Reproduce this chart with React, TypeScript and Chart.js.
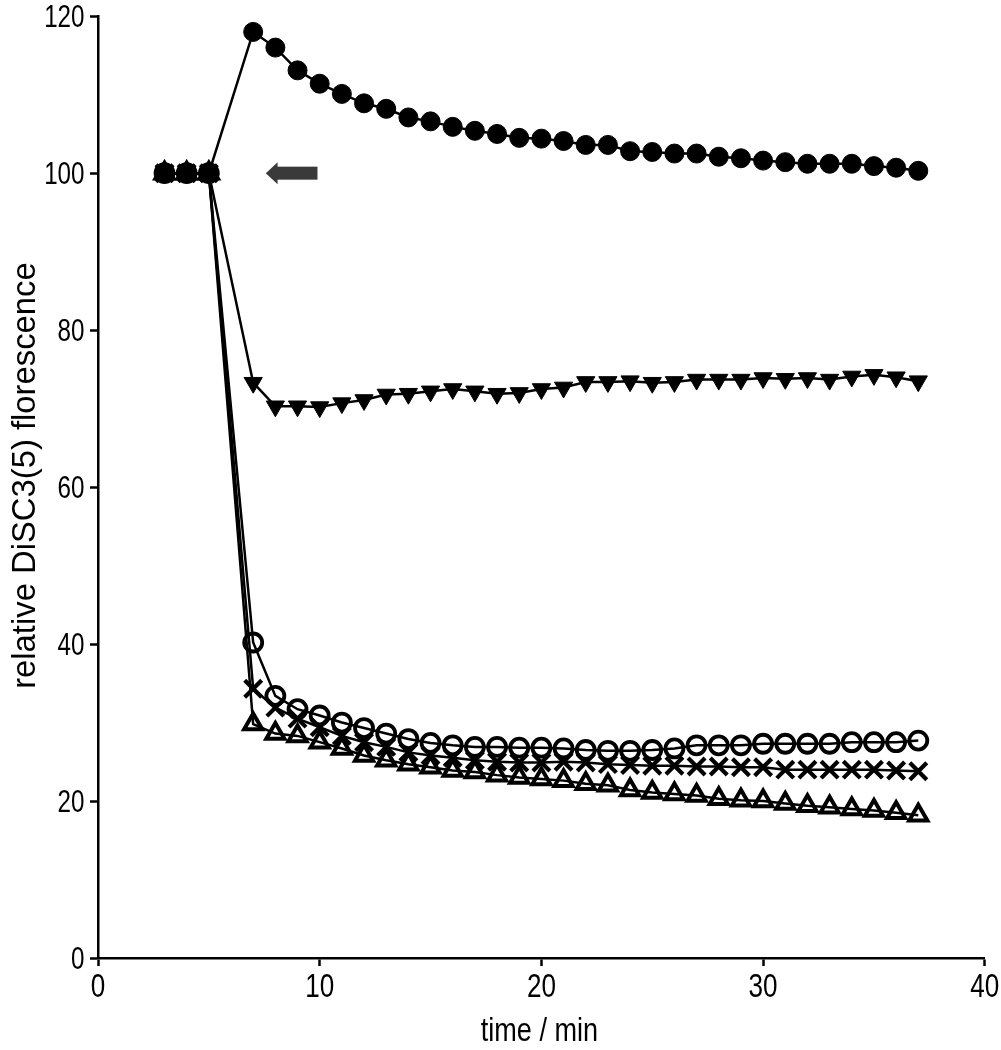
import React, { useEffect, useRef } from 'react';
import { Chart, registerables } from 'chart.js';

Chart.register(...registerables);

const times = [3, 4, 5, 7, 8, 9, 10, 11, 12, 13, 14, 15, 16, 17, 18, 19, 20, 21, 22, 23, 24, 25, 26, 27, 28, 29, 30, 31, 32, 33, 34, 35, 36, 37];

const filledCircles = [100, 100, 100, 118.0, 116.0, 113.1, 111.4, 110.1, 108.9, 108.2, 107.1, 106.6, 105.9, 105.4, 105.0, 104.5, 104.4, 104.1, 103.6, 103.6, 102.8, 102.7, 102.5, 102.5, 102.1, 101.9, 101.6, 101.4, 101.2, 101.2, 101.2, 100.9, 100.7, 100.3];
const invertedTriangles = [100, 100, 100, 73.3, 70.3, 70.3, 70.2, 70.7, 71.1, 71.8, 71.9, 72.2, 72.5, 72.2, 71.9, 72.0, 72.5, 72.7, 73.4, 73.4, 73.5, 73.3, 73.4, 73.7, 73.7, 73.7, 73.9, 73.8, 73.9, 73.7, 74.1, 74.3, 74.0, 73.5];
const openCircles = [100, 100, 100, 40.2, 33.4, 31.7, 30.9, 30.0, 29.3, 28.6, 27.9, 27.4, 27.1, 26.9, 26.9, 26.8, 26.8, 26.7, 26.5, 26.4, 26.4, 26.5, 26.7, 27.1, 27.1, 27.1, 27.3, 27.3, 27.3, 27.3, 27.5, 27.5, 27.5, 27.7];
const crosses = [100, 100, 100, 34.3, 31.9, 30.5, 29.4, 28.3, 27.5, 26.9, 26.2, 25.8, 25.5, 25.2, 25.0, 24.9, 24.9, 25.0, 24.9, 24.7, 24.6, 24.5, 24.5, 24.4, 24.4, 24.3, 24.3, 24.0, 24.0, 24.0, 24.0, 24.0, 23.9, 23.8];
const openTriangles = [100, 100, 100, 29.8, 28.6, 28.3, 27.5, 26.7, 25.8, 25.2, 24.7, 24.3, 23.9, 23.7, 23.3, 23.0, 22.8, 22.6, 22.2, 22.0, 21.4, 21.1, 20.9, 20.7, 20.3, 20.1, 20.0, 19.7, 19.4, 19.2, 19.0, 18.8, 18.5, 18.2];

const xTicks = [0, 10, 20, 30, 40];
const yTicks = [0, 20, 40, 60, 80, 100, 120];

// arrow annotation (data units): tip, head base, tail, level
const arrowXs = [7.57, 8.1, 9.9];
const arrowLevel = 100;

const xTitle = 'time / min';
const yTitle = 'relative DiSC3(5) florescence';

const fontFamily = "'Liberation Sans', Arial, Helvetica, sans-serif";

function toPoints(ys: number[]) {
  return ys.map((y, i) => ({ x: times[i], y }));
}

const arrowPlugin = {
  id: 'arrowPlugin',
  afterDatasetsDraw(chart: any) {
    const { ctx, scales } = chart;
    const xs = scales.x;
    const ys = scales.y;
    const tip = xs.getPixelForValue(arrowXs[0]);
    const base = xs.getPixelForValue(arrowXs[1]);
    const tail = xs.getPixelForValue(arrowXs[2]);
    const cy = ys.getPixelForValue(arrowLevel);
    ctx.save();
    ctx.fillStyle = '#3a3a3a';
    ctx.fillRect(base - 1, cy - 6.5, tail - base + 1, 13);
    ctx.beginPath();
    ctx.moveTo(tip, cy);
    ctx.lineTo(base, cy - 11);
    ctx.lineTo(base, cy + 11);
    ctx.closePath();
    ctx.fill();
    ctx.restore();
  },
};

// axis text drawn with a horizontally condensed face
const textPlugin = {
  id: 'textPlugin',
  afterDraw(chart: any) {
    const { ctx, scales, chartArea } = chart;
    const xs = scales.x;
    const ys = scales.y;
    ctx.save();
    ctx.fillStyle = '#000';
    // y tick labels
    ctx.font = `31px ${fontFamily}`;
    ctx.textAlign = 'right';
    ctx.textBaseline = 'alphabetic';
    yTicks.forEach((v) => {
      const py = ys.getPixelForValue(v);
      ctx.save();
      ctx.translate(ys.right - 13.5, py + 10.5);
      ctx.scale(0.78, 1);
      ctx.fillText(String(v), 0, 0);
      ctx.restore();
    });
    // x tick labels
    ctx.font = `33px ${fontFamily}`;
    ctx.textAlign = 'center';
    xTicks.forEach((v) => {
      const px = xs.getPixelForValue(v);
      ctx.save();
      ctx.translate(px, xs.top + 38.5);
      ctx.scale(0.79, 1);
      ctx.fillText(String(v), 0, 0);
      ctx.restore();
    });
    // x title
    ctx.font = `33px ${fontFamily}`;
    ctx.save();
    ctx.translate((chartArea.left + chartArea.right) / 2 - 2, xs.top + 83);
    ctx.scale(0.82, 1);
    ctx.fillText(xTitle, 0, 0);
    ctx.restore();
    // y title
    ctx.font = `32.8px ${fontFamily}`;
    ctx.save();
    ctx.translate(35, (chartArea.top + chartArea.bottom) / 2 - 11.5);
    ctx.rotate(-Math.PI / 2);
    ctx.fillText(yTitle, 0, 0);
    ctx.restore();
    ctx.restore();
  },
};

export default function App() {
  const ref = useRef<HTMLCanvasElement | null>(null);
  useEffect(() => {
    if (!ref.current) return;
    const common = {
      borderColor: '#000',
      borderWidth: 2.5,
      pointBorderColor: '#000',
      tension: 0,
      fill: false,
      showLine: true,
    };
    const chart = new Chart(ref.current, {
      type: 'line',
      data: {
        datasets: [
          {
            ...common,
            label: 'filled circles',
            data: toPoints(filledCircles),
            pointStyle: 'circle',
            pointRadius: 9.5,
            pointBackgroundColor: '#000',
            pointBorderWidth: 1,
          },
          {
            ...common,
            label: 'inverted triangles',
            data: toPoints(invertedTriangles),
            pointStyle: 'triangle',
            pointRotation: 180,
            pointRadius: 10.5,
            pointBackgroundColor: '#000',
            pointBorderWidth: 1,
          },
          {
            ...common,
            label: 'open circles',
            data: toPoints(openCircles),
            pointStyle: 'circle',
            pointRadius: 9,
            pointBackgroundColor: 'rgba(0,0,0,0)',
            pointBorderWidth: 3.8,
          },
          {
            ...common,
            label: 'crosses',
            data: toPoints(crosses),
            pointStyle: 'crossRot',
            pointRadius: 12,
            pointBackgroundColor: 'rgba(0,0,0,0)',
            pointBorderWidth: 4.2,
          },
          {
            ...common,
            label: 'open triangles',
            data: toPoints(openTriangles),
            pointStyle: 'triangle',
            pointRadius: 10.5,
            pointBackgroundColor: 'rgba(0,0,0,0)',
            pointBorderWidth: 4,
          },
        ],
      },
      options: {
        responsive: true,
        maintainAspectRatio: false,
        animation: false,
        layout: { padding: { top: 14, right: 15, left: 0, bottom: 0 } },
        plugins: {
          legend: { display: false },
          tooltip: { enabled: false },
        },
        scales: {
          x: {
            type: 'linear',
            min: 0,
            max: 40,
            afterBuildTicks: (axis: any) => {
              axis.ticks = xTicks.map((v) => ({ value: v }));
            },
            afterFit: (axis: any) => {
              axis.height = 92;
            },
            border: { display: true, color: '#000', width: 2.5 },
            grid: {
              display: true,
              drawOnChartArea: false,
              drawTicks: true,
              tickLength: 8,
              tickWidth: 2.5,
              tickColor: '#000',
            },
            ticks: { display: false },
            title: { display: false, text: xTitle },
          },
          y: {
            type: 'linear',
            min: 0,
            max: 120,
            afterBuildTicks: (axis: any) => {
              axis.ticks = yTicks.map((v) => ({ value: v }));
            },
            afterFit: (axis: any) => {
              axis.width = 98;
            },
            border: { display: true, color: '#000', width: 2.5 },
            grid: {
              display: true,
              drawOnChartArea: false,
              drawTicks: true,
              tickLength: 8,
              tickWidth: 2.5,
              tickColor: '#000',
            },
            ticks: { display: false },
            title: { display: false, text: yTitle },
          },
        },
      },
      plugins: [arrowPlugin, textPlugin],
    } as any);
    return () => chart.destroy();
  }, []);

  return (
    <div style={{ position: 'absolute', left: 0, top: 0, width: 1001, height: 1050, background: '#fff' }}>
      <canvas ref={ref} />
    </div>
  );
}
